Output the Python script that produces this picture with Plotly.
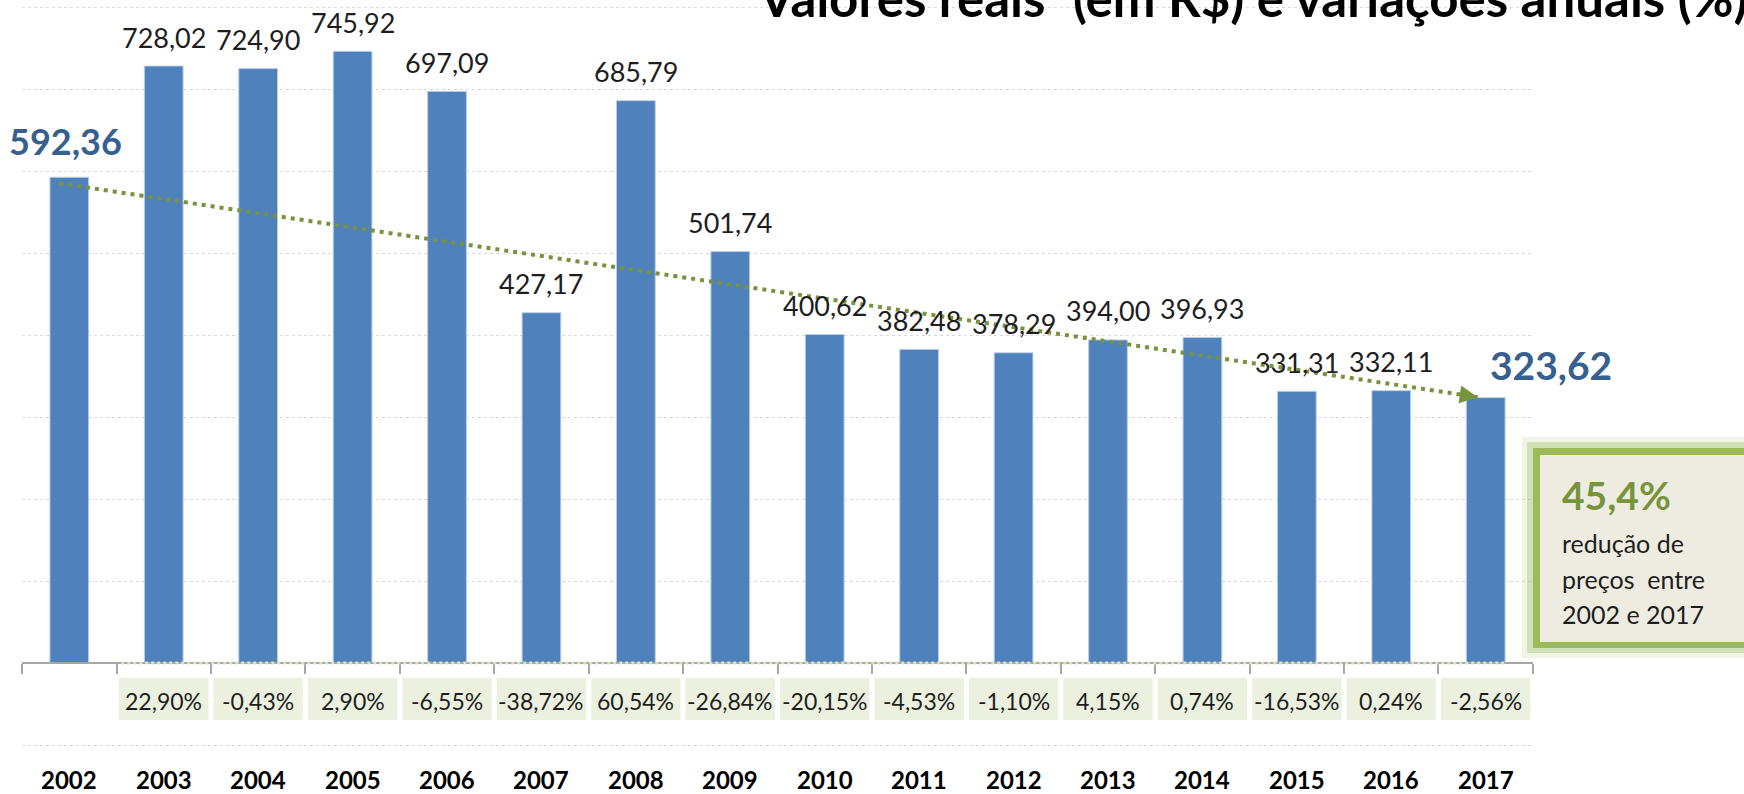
import math
import plotly.graph_objects as go

# ---------------- data ----------------
years = [2002, 2003, 2004, 2005, 2006, 2007, 2008, 2009,
         2010, 2011, 2012, 2013, 2014, 2015, 2016, 2017]
values = [592.36, 728.02, 724.90, 745.92, 697.09, 427.17, 685.79, 501.74,
          400.62, 382.48, 378.29, 394.00, 396.93, 331.31, 332.11, 323.62]
change_years = [2003, 2004, 2005, 2006, 2007, 2008, 2009, 2010,
                2011, 2012, 2013, 2014, 2015, 2016, 2017]
changes = [22.90, -0.43, 2.90, -6.55, -38.72, 60.54, -26.84, -20.15,
           -4.53, -1.10, 4.15, 0.74, -16.53, 0.24, -2.56]
reduction_pct = 45.4
title_text = "Valores reais<sup>*</sup> (em R$) e variações anuais (%)"
box_lines = ["redução de", "preços\u00a0 entre", "2002 e 2017"]

# ---------------- geometry ----------------
W, H = 1744, 794
L_PX, R_PX = 22, 1533          # plot area horizontal extent
BASE_PX = 663                  # pixel row of value 0
YPX = 0.82                     # pixels per unit
XPX = (R_PX - L_PX) / len(years)
y_range = [-(H - BASE_PX) / YPX, BASE_PX / YPX]
x_range = [years[0] - 0.5 - 0.001, years[-1] + 0.5 + 0.001]


def py_to_y(py):
    return (BASE_PX - py) / YPX


def px_to_paper(px):
    return (px - L_PX) / (R_PX - L_PX)


def py_to_paper(py):
    return 1 - py / H


def fmt(v, d=2):
    return f"{v:.{d}f}".replace(".", ",")


FONT = "Lato, 'Open Sans', sans-serif"
BAR_COLOR = "#4F81BD"
BIG_BLUE = "#36608F"
GREEN = "#77933C"
TXT = "#1E1E1E"

fig = go.Figure()

# bars
fig.add_trace(go.Bar(
    x=years, y=values, width=0.41,
    marker=dict(color=BAR_COLOR, line=dict(color="#B9CDE5", width=1)),
    hoverinfo="skip", showlegend=False,
))

# trend line (dotted) from first to last value
sx = years[0] - 10 / XPX
sy = values[0] - 6 / YPX
tx = years[-1] - 8 / XPX
ty = values[-1] + 0.5 / YPX
fig.add_trace(go.Scatter(
    x=[sx, tx], y=[sy, ty], mode="lines",
    line=dict(color=GREEN, width=4, dash="4px,5px"),
    hoverinfo="skip", showlegend=False,
))

annotations = []
# arrow head at the end of the trend line
dxs = (tx - sx) * XPX
dys = (sy - ty) * YPX
ln = math.hypot(dxs, dys)
ux, uy = dxs / ln, dys / ln
annotations.append(dict(
    x=tx, y=ty, xref="x", yref="y", text="", showarrow=True,
    ax=-ux * 16, ay=-uy * 16, axref="pixel", ayref="pixel",
    arrowhead=2, arrowsize=0.9, arrowwidth=4, arrowcolor=GREEN, standoff=0,
))

# value labels
for i, (yr, v) in enumerate(zip(years, values)):
    if i == 0:
        annotations.append(dict(x=yr, y=v, xref="x", yref="y", text=fmt(v),
                                showarrow=False, yanchor="middle", yshift=36, xshift=-4,
                                font=dict(family=FONT, size=36, color=BIG_BLUE, weight="bold")))
    elif i == len(values) - 1:
        annotations.append(dict(x=yr, y=v, xref="x", yref="y", text=fmt(v),
                                showarrow=False, yanchor="middle", yshift=33, xshift=65,
                                font=dict(family=FONT, size=39, color=BIG_BLUE, weight="bold")))
    else:
        annotations.append(dict(x=yr, y=v, xref="x", yref="y", text=fmt(v),
                                showarrow=False, yanchor="middle", yshift=29,
                                font=dict(family=FONT, size=27, color=TXT)))

# year labels
for yr in years:
    annotations.append(dict(x=yr, y=py_to_y(779.5), xref="x", yref="y", text=str(yr),
                            showarrow=False, yanchor="middle", borderpad=0,
                            font=dict(family=FONT, size=24, color="#000000", weight="bold")))

shapes = []
# percentage boxes
box_top, box_bot = py_to_y(678), py_to_y(720)
inset = 2.5 / XPX
for yr, c in zip(change_years, changes):
    shapes.append(dict(type="rect", xref="x", yref="y",
                       x0=yr - 0.5 + inset, x1=yr + 0.5 - inset, y0=box_bot, y1=box_top,
                       fillcolor="#EBF1DE", line=dict(width=0), layer="above"))
    annotations.append(dict(x=yr, y=py_to_y(700.7), xref="x", yref="y",
                            text=f"{fmt(c)}%", showarrow=False, yanchor="middle",
                            font=dict(family=FONT, size=23, color=TXT)))

# light green dotted line along baseline
shapes.append(dict(type="line", xref="x", yref="y",
                   x0=change_years[0] - 0.45, x1=change_years[-1] + 0.2, y0=0, y1=0,
                   line=dict(color="#D7E4BD", width=3, dash="dot"), layer="above"))


# highlighted box on the right
def prect(x0, y0, x1, y1, fill):
    return dict(type="rect", xref="paper", yref="paper",
                x0=px_to_paper(x0), x1=px_to_paper(x1),
                y0=py_to_paper(y1), y1=py_to_paper(y0),
                fillcolor=fill, line=dict(width=0), layer="above")


shapes.append(prect(1522, 437, 1770, 658, "rgba(155,187,89,0.15)"))
shapes.append(prect(1527, 442, 1770, 653, "rgba(155,187,89,0.35)"))
shapes.append(prect(1533, 448, 1770, 648, "#9BBB59"))
shapes.append(prect(1540, 455, 1770, 642, "#EEECE1"))

annotations.append(dict(x=px_to_paper(1560), y=py_to_paper(495), xref="paper", yref="paper",
                        text=f"{fmt(reduction_pct, 1)}%", showarrow=False,
                        xanchor="left", yanchor="middle",
                        font=dict(family=FONT, size=39, color=GREEN, weight="bold")))
for line_text, cy in zip(box_lines, [543, 579, 614]):
    annotations.append(dict(x=px_to_paper(1560), y=py_to_paper(cy), xref="paper", yref="paper",
                            text=line_text, showarrow=False, xanchor="left", yanchor="middle",
                            font=dict(family=FONT, size=25, color=TXT)))

# title (cut by the top/right edge as in the source)
annotations.append(dict(x=px_to_paper(756), y=py_to_paper(-5.8), xref="paper", yref="paper",
                        text=title_text, showarrow=False, xanchor="left", yanchor="middle",
                        font=dict(family=FONT, size=51, color="#000000", weight="bold")))

fig.update_layout(
    width=W, height=H,
    margin=dict(l=L_PX, r=W - R_PX, t=0, b=0, pad=0),
    paper_bgcolor="white", plot_bgcolor="white",
    xaxis=dict(range=x_range, anchor="free", position=1 - BASE_PX / H,
               showline=True, linecolor="#A6A6A6", linewidth=2,
               ticks="outside", ticklen=10, tickwidth=2, tickcolor="#A6A6A6",
               tickvals=[y - 0.5 for y in years] + [years[-1] + 0.5],
               showticklabels=False, showgrid=False, zeroline=False, fixedrange=True),
    yaxis=dict(range=y_range, tickvals=[-100, 100, 200, 300, 400, 500, 600, 700, 800],
               showticklabels=False, showgrid=True, gridcolor="#D9D9D9", gridwidth=1,
               griddash="dot", zeroline=False, showline=False, ticks="", fixedrange=True),
    shapes=shapes,
    annotations=annotations,
    showlegend=False,
)

fig.write_html(
    "out.html",
    config={"displayModeBar": False, "responsive": False},
    post_script="document.body.style.margin='0';document.body.style.overflow='hidden';",
)
